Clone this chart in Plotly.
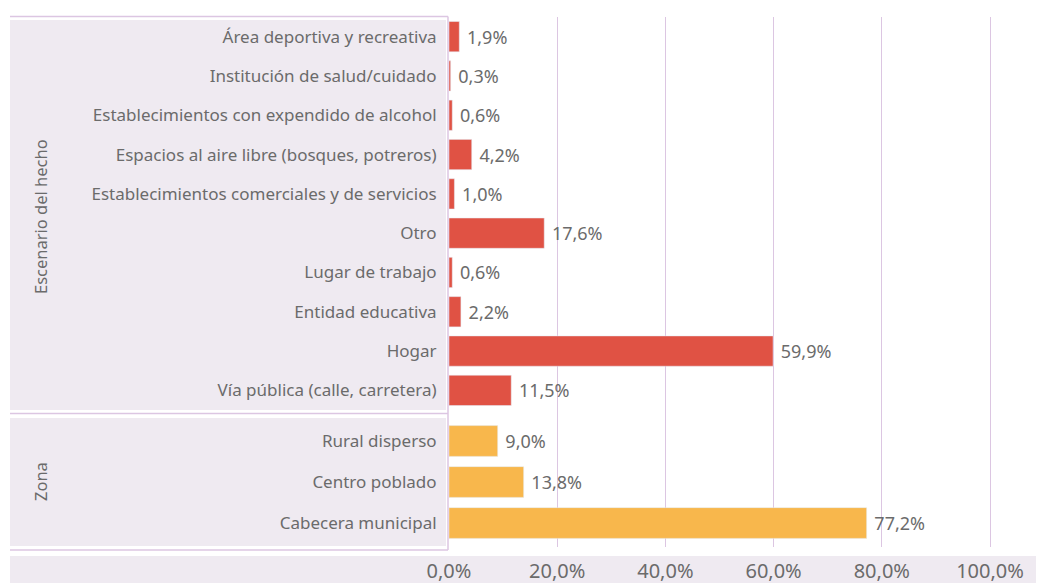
import plotly.graph_objects as go
from plotly.subplots import make_subplots

# Escenario del hecho (top to bottom)
escenario = [
    "Área deportiva y recreativa",
    "Institución de salud/cuidado",
    "Establecimientos con expendido de alcohol",
    "Espacios al aire libre (bosques, potreros)",
    "Establecimientos comerciales y de servicios",
    "Otro",
    "Lugar de trabajo",
    "Entidad educativa",
    "Hogar",
    "Vía pública (calle, carretera)",
]
escenario_pct = [1.9, 0.3, 0.6, 4.2, 1.0, 17.6, 0.6, 2.2, 59.9, 11.5]

# Zona (top to bottom)
zona = ["Rural disperso", "Centro poblado", "Cabecera municipal"]
zona_pct = [9.0, 13.8, 77.2]

x_ticks = [0, 20, 40, 60, 80, 100]
x_tick_labels = ["0,0%", "20,0%", "40,0%", "60,0%", "80,0%", "100,0%"]

# page body has an 8px margin, so the figure starts 8px into the window
OFF = 8
W, H = 1044, 583 - OFF
RED = "#E05244"
ORANGE = "#F8B74C"
PANEL = "#EFEAF1"
LINE = "#DCC6E2"
GRAY = "#6B6B6B"
FONT = "Noto Sans"


def py(p):
    return 1 - (p - OFF) / H


def px(p):
    return (p - OFF) / W


fig = make_subplots(rows=2, cols=1, shared_xaxes=True, vertical_spacing=0)

fig.add_trace(go.Bar(
    y=escenario, x=escenario_pct, orientation="h", marker_color=RED,
    width=0.77, texttemplate="\u00a0%{x:.1f}%", textposition="outside",
    textfont=dict(size=18, color=GRAY, family=FONT), cliponaxis=False,
    hoverinfo="skip",
), row=1, col=1)

fig.add_trace(go.Bar(
    y=zona, x=zona_pct, orientation="h", marker_color=ORANGE,
    width=0.75, texttemplate="\u00a0%{x:.1f}%", textposition="outside",
    textfont=dict(size=18, color=GRAY, family=FONT), cliponaxis=False,
    hoverinfo="skip",
), row=2, col=1)

x0 = 449
x_max = (1044 - x0) / 541 * 100

xcommon = dict(range=[0, x_max], domain=[px(x0), px(1044)], showgrid=True,
               gridcolor=LINE, gridwidth=1.2, tickmode="array",
               tickvals=x_ticks, ticktext=x_tick_labels,
               zeroline=False, showline=False, fixedrange=True,
               automargin=False)
fig.update_xaxes(**xcommon)
fig.update_xaxes(showticklabels=False, row=1, col=1)
fig.update_xaxes(showticklabels=True,
                 ticks="outside", ticklen=6, tickcolor="rgba(0,0,0,0)",
                 tickfont=dict(size=20, color=GRAY, family=FONT),
                 row=2, col=1)

ycommon = dict(showgrid=False, zeroline=False, showline=False,
               ticks="outside", ticklen=8, tickcolor="rgba(0,0,0,0)",
               tickfont=dict(size=17, color=GRAY, family=FONT),
               fixedrange=True, automargin=False)
fig.update_yaxes(**ycommon)
fig.update_yaxes(categoryorder="array", categoryarray=escenario,
                 range=[9.627, -0.5], domain=[py(415), py(17)], row=1, col=1)
fig.update_yaxes(categoryorder="array", categoryarray=zona,
                 range=[2.585, -0.634], domain=[py(547), py(415)], row=2, col=1)

shapes = [
    # header panels
    dict(type="rect", xref="paper", yref="paper", x0=px(10), x1=px(446),
         y0=py(410), y1=py(20), fillcolor=PANEL, line_width=0, layer="below"),
    dict(type="rect", xref="paper", yref="paper", x0=px(10), x1=px(446),
         y0=py(546), y1=py(418), fillcolor=PANEL, line_width=0, layer="below"),
    # axis band
    dict(type="rect", xref="paper", yref="paper", x0=px(10), x1=1,
         y0=0, y1=py(556), fillcolor=PANEL, line_width=0, layer="below"),
    # border lines
    dict(type="line", xref="paper", yref="paper", x0=px(10), x1=px(448),
         y0=py(16.5), y1=py(16.5), line=dict(color=LINE, width=1.5)),
    dict(type="line", xref="paper", yref="paper", x0=px(10), x1=px(448),
         y0=py(413.5), y1=py(413.5), line=dict(color=LINE, width=1.5)),
    dict(type="line", xref="paper", yref="paper", x0=px(10), x1=px(448),
         y0=py(550), y1=py(550), line=dict(color=LINE, width=1.5)),
    dict(type="line", xref="paper", yref="paper", x0=px(448), x1=px(448),
         y0=py(16.5), y1=py(550), line=dict(color=LINE, width=1.5)),
]

annotations = [
    dict(text="Escenario del hecho", x=px(40), y=py(217), xref="paper",
         yref="paper", textangle=-90, showarrow=False,
         xanchor="center", yanchor="middle",
         font=dict(size=16.5, color=GRAY, family=FONT)),
    dict(text="Zona", x=px(40), y=py(482), xref="paper", yref="paper",
         textangle=-90, showarrow=False, xanchor="center", yanchor="middle",
         font=dict(size=16.5, color=GRAY, family=FONT)),
]

fig.update_layout(
    width=W, height=H, margin=dict(l=0, r=0, t=0, b=0),
    paper_bgcolor="white", plot_bgcolor="rgba(0,0,0,0)",
    showlegend=False, separators=",.", bargap=0.2,
    shapes=shapes, annotations=annotations,
    font=dict(family=FONT, color=GRAY),
)

fig.write_html("out.html")
